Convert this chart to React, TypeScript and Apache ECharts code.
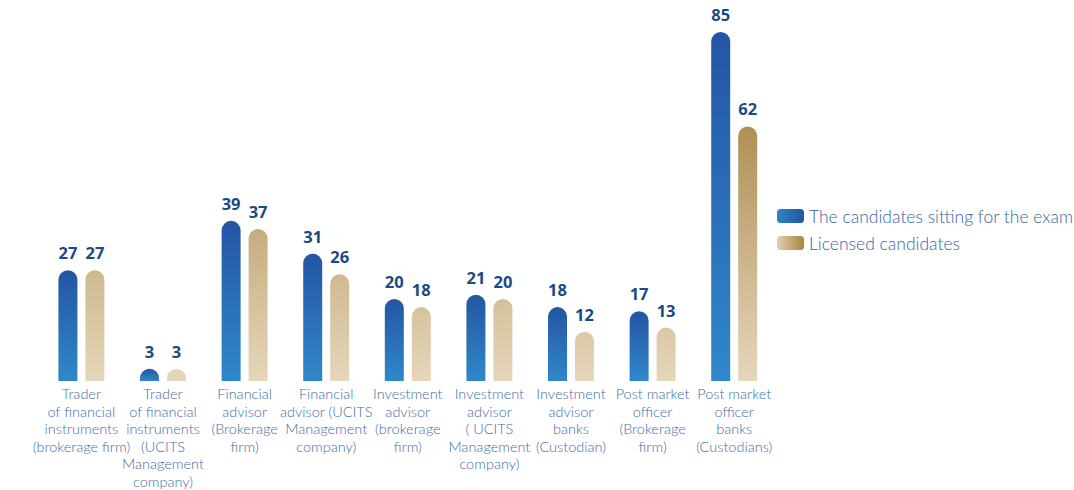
import React, { useEffect, useRef } from "react";
import * as echarts from "echarts";

const categories = [
  "Trader\nof financial\ninstruments\n(brokerage firm)",
  "Trader\nof financial\ninstruments\n(UCITS\nManagement\ncompany)",
  "Financial\nadvisor\n(Brokerage\nfirm)",
  "Financial\nadvisor (UCITS\nManagement\ncompany)",
  "Investment\nadvisor\n(brokerage\nfirm)",
  "Investment\nadvisor\n( UCITS\nManagement\ncompany)",
  "Investment\nadvisor\nbanks\n(Custodian)",
  "Post market\nofficer\n(Brokerage\nfirm)",
  "Post market\nofficer\nbanks\n(Custodians)",
];

const sittingExam = [27, 3, 39, 31, 20, 21, 18, 17, 85];
const licensed = [27, 3, 37, 26, 18, 20, 12, 13, 62];

const seriesNames = ["The candidates sitting for the exam", "Licensed candidates"];

const GRID_TOP = 32;
const GRID_BOTTOM_Y = 382;

export default function App() {
  const ref = useRef<HTMLDivElement>(null);

  useEffect(() => {
    if (!ref.current) return;
    const chart = echarts.init(ref.current, undefined, { renderer: "svg" });

    const blueBar = new echarts.graphic.LinearGradient(0, 0, 0, 1, [
      { offset: 0, color: "#2455a3" },
      { offset: 1, color: "#2f88ca" },
    ]);
    // gold shade depends on absolute height across the plot
    const goldBar = new echarts.graphic.LinearGradient(
      0,
      GRID_TOP,
      0,
      GRID_BOTTOM_Y,
      [
        { offset: 0, color: "#9a7630" },
        { offset: 1, color: "#e6d7bb" },
      ],
      true
    );
    const blueIcon = new echarts.graphic.LinearGradient(0, 0, 1, 0, [
      { offset: 0, color: "#2f84c6" },
      { offset: 1, color: "#2455a3" },
    ]);
    const goldIcon = new echarts.graphic.LinearGradient(0, 0, 1, 0, [
      { offset: 0, color: "#e2d0ae" },
      { offset: 1, color: "#a8843e" },
    ]);

    const valueLabel = {
      show: true,
      position: "top",
      distance: 9,
      color: "#1a4a84",
      fontSize: 16.5,
      fontWeight: "bold",
      fontFamily: "Open Sans",
    };

    chart.setOption({
      animation: false,
      grid: {
        left: 40.6,
        width: 734.4,
        top: GRID_TOP,
        bottom: 490 - GRID_BOTTOM_Y,
        containLabel: false,
      },
      legend: {
        orient: "vertical",
        left: 772,
        top: 202,
        itemWidth: 27,
        itemHeight: 14,
        itemGap: 9,
        icon: "roundRect",
        textStyle: {
          color: "#3a64a0",
          fontSize: 17.5,
          fontFamily: "Lato",
          fontWeight: 300,
        },
        data: [
          { name: seriesNames[0], itemStyle: { color: blueIcon } },
          { name: seriesNames[1], itemStyle: { color: goldIcon } },
        ],
      },
      xAxis: {
        type: "category",
        data: categories,
        axisLine: { show: false },
        axisTick: { show: false },
        axisLabel: {
          interval: 0,
          margin: 4,
          color: "#416ea9",
          fontSize: 14.5,
          lineHeight: 17.5,
          fontFamily: "Lato",
          fontWeight: 300,
        },
      },
      yAxis: {
        type: "value",
        min: 0,
        max: 85,
        show: false,
        splitLine: { show: false },
      },
      series: [
        {
          name: seriesNames[0],
          type: "bar",
          data: sittingExam,
          barWidth: 19,
          barGap: "42%",
          itemStyle: { color: blueBar, borderRadius: [10, 10, 0, 0] },
          label: valueLabel,
        },
        {
          name: seriesNames[1],
          type: "bar",
          data: licensed,
          barWidth: 19,
          itemStyle: { color: goldBar, borderRadius: [10, 10, 0, 0] },
          label: valueLabel,
        },
      ],
    });

    return () => chart.dispose();
  }, []);

  return (
    <div
      ref={ref}
      style={{ position: "fixed", left: 0, top: 0, width: 1074, height: 490, background: "#ffffff" }}
    />
  );
}
